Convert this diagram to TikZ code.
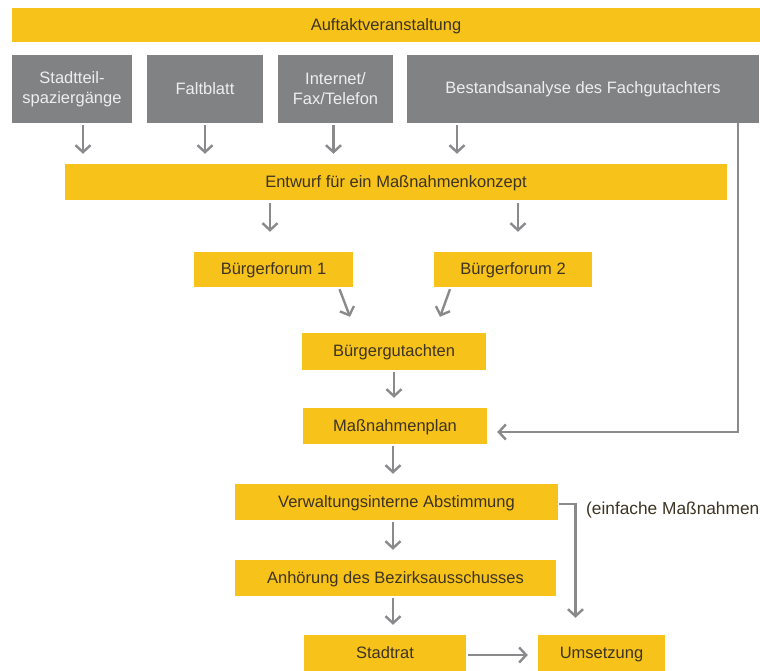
\documentclass[tikz,border=0pt]{standalone}
\usepackage{fontspec}
\setmainfont{Liberation Sans}
\usetikzlibrary{arrows.meta}
\definecolor{ylw}{HTML}{F7C31A}
\definecolor{gbox}{HTML}{818284}
\definecolor{arr}{HTML}{8A8A8C}
\definecolor{txt}{HTML}{3D3322}
\definecolor{gtxt}{HTML}{EEEEEE}
\tikzset{
  ybox/.style={fill=ylw, draw=none, inner sep=0pt, text=txt, font=\fontsize{16.5}{19}\selectfont, align=center, text depth=1pt},
  gb/.style={fill=gbox, draw=none, inner sep=0pt, text=gtxt, font=\fontsize{16.5}{20}\selectfont, align=center},
  flow/.style={draw=arr, line width=2.4pt, -{Straight Barb[length=7pt,width=15pt,line width=2.4pt]}},
}
\begin{document}
\begin{tikzpicture}[x=1pt,y=-1pt]
\useasboundingbox (0,0) rectangle (760,670);
% Auftakt
\node[ybox, minimum width=748pt, minimum height=34pt] (auf) at (386,25) {Auftaktveranstaltung};
% gray boxes
\node[gb, minimum width=120pt, minimum height=68pt] (s1) at (72,89) {Stadtteil-\\spaziergänge};
\node[gb, minimum width=116pt, minimum height=68pt] (s2) at (205,89) {Faltblatt};
\node[gb, minimum width=115pt, minimum height=68pt] (s3) at (335.5,89) {Internet/\\Fax/Telefon};
\node[gb, minimum width=352pt, minimum height=68pt] (s4) at (583,89) {Bestandsanalyse des Fachgutachters};
% Entwurf
\node[ybox, minimum width=662pt, minimum height=36pt] (ent) at (396,182) {Entwurf für ein Maßnahmenkonzept};
% Foren
\node[ybox, minimum width=159pt, minimum height=35pt] (bf1) at (273.5,269.5) {Bürgerforum 1};
\node[ybox, minimum width=158pt, minimum height=35pt] (bf2) at (513,269.5) {Bürgerforum 2};
\node[ybox, minimum width=184pt, minimum height=37pt] (bg) at (394,351.5) {Bürgergutachten};
\node[ybox, minimum width=184pt, minimum height=36pt] (mp) at (395,426) {Maßnahmenplan};
\node[ybox, minimum width=323pt, minimum height=36pt] (va) at (396.5,502) {Verwaltungsinterne Abstimmung};
\node[ybox, minimum width=321pt, minimum height=36pt] (an) at (395.5,578) {Anhörung des Bezirksausschusses};
\node[ybox, minimum width=162pt, minimum height=36pt] (st) at (385,653) {Stadtrat};
\node[ybox, minimum width=127pt, minimum height=36pt] (um) at (601.5,653) {Umsetzung};
\node[anchor=base west, inner sep=0pt, text=txt, font=\fontsize{17.3}{19}\selectfont] (lbl) at (586,514) {(einfache Maßnahmen};
% arrows gray -> Entwurf
\draw[flow] ([xshift=11pt,yshift=-2pt]s1.south) -- ([xshift=11pt,yshift=10pt]s1.south |- ent.north);
\draw[flow] ([yshift=-2pt]s2.south) -- ([yshift=10pt]s2.south |- ent.north);
\draw[flow] ([xshift=-2pt,yshift=-2pt]s3.south) -- ([xshift=-2pt,yshift=10pt]s3.south |- ent.north);
\draw[flow] ([xshift=-126pt,yshift=-2pt]s4.south) -- ([xshift=-126pt,yshift=10pt]s4.south |- ent.north);
% right connector
\draw[flow] ([xshift=155pt]s4.south) |- ([xshift=10pt,yshift=-6pt]mp.east);
% Entwurf -> Foren
\draw[flow] ([xshift=-126pt,yshift=-3pt]ent.south) -- ([xshift=-126pt,yshift=20pt]ent.south |- bf1.north);
\draw[flow] ([xshift=122pt,yshift=-3pt]ent.south) -- ([xshift=122pt,yshift=20pt]ent.south |- bf2.north);
% Foren -> Gutachten
\draw[flow] ([xshift=66pt,yshift=-2pt]bf1.south) -- ([xshift=-44pt,yshift=16pt]bg.north);
\draw[flow] ([xshift=-63pt,yshift=-2pt]bf2.south) -- ([xshift=46pt,yshift=16pt]bg.north);
% chain
\draw[flow] ([yshift=-2pt]bg.south) -- ([yshift=10pt]bg.south |- mp.north);
\draw[flow] ([xshift=-2pt,yshift=-2pt]mp.south) -- ([xshift=-2pt,yshift=10pt]mp.south |- va.north);
\draw[flow] ([xshift=-3.5pt,yshift=-2pt]va.south) -- ([xshift=-3.5pt,yshift=10pt]va.south |- an.north);
\draw[flow] ([xshift=-2.5pt,yshift=-2pt]an.south) -- ([xshift=-2.5pt,yshift=10pt]an.south |- st.north);
\draw[flow] ([xshift=2pt,yshift=-2pt]st.east) -- ([xshift=-10pt,yshift=-2pt]um.west);
% einfache Massnahmen connector
\draw[flow] ([xshift=1pt,yshift=-2pt]va.east) -| ([xshift=-26pt,yshift=17pt]um.north);
\end{tikzpicture}
\end{document}
